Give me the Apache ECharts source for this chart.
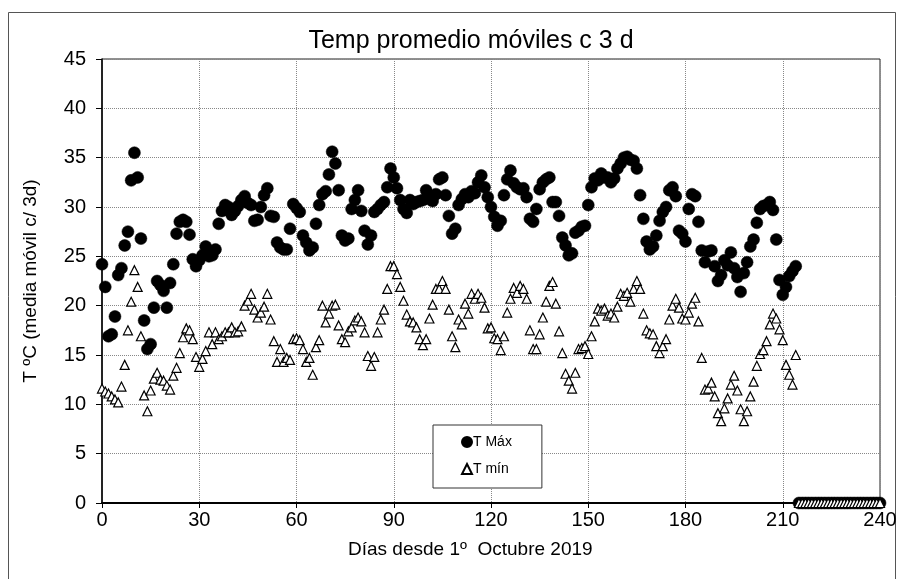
<!DOCTYPE html>
<html>
<head>
<meta charset="utf-8">
<script src="https://cdn.jsdelivr.net/npm/echarts@6/dist/echarts.min.js"></script>
<style>
html, body { margin: 0; padding: 0; background: #fff; }
#chart { width: 901px; height: 579px; }
</style>
</head>
<body>
<div id="chart"></div>
<script>
// dias desde 1 oct 2019, medias moviles de 3 dias
var tMax = [
24.2, 21.9, 16.9, 17.1, 18.9, 23.1, 23.8, 26.1, 27.5, 32.7,
35.5, 33.0, 26.8, 18.5, 15.6, 16.1, 19.8, 22.5, 22.1, 21.5,
19.8, 22.3, 24.2, 27.3, 28.5, 28.7, 28.5, 27.2, 24.7, 24.0,
24.6, 25.1, 26.0, 25.0, 25.1, 25.7, 28.3, 29.6, 30.2, 30.0,
29.2, 29.6, 30.1, 30.7, 31.1, 30.4, 30.2, 28.6, 28.7, 30.0,
31.2, 31.9, 29.1, 29.0, 26.4, 25.9, 25.7, 25.7, 27.8, 30.3,
29.9, 29.5, 27.1, 26.4, 25.6, 25.9, 28.3, 30.2, 31.3, 31.6,
33.3, 35.6, 34.4, 31.7, 27.1, 26.6, 26.8, 29.8, 30.7, 31.7,
29.6, 27.6, 26.2, 27.1, 29.5, 29.8, 30.2, 30.5, 32.0, 33.9,
33.0, 31.9, 30.7, 29.8, 29.4, 30.7, 30.3, 30.5, 30.6, 30.7,
31.7, 30.8, 30.6, 31.3, 32.8, 33.0, 31.2, 29.1, 27.3, 27.8,
30.2, 30.8, 31.3, 31.0, 31.6, 31.4, 32.5, 33.2, 32.0, 31.0,
30.0, 29.0, 28.1, 28.6, 31.2, 32.8, 33.7, 32.4, 32.0, 31.8,
31.9, 31.0, 28.8, 28.5, 29.8, 31.8, 32.5, 32.8, 33.0, 30.5,
30.5, 29.1, 26.9, 26.1, 25.1, 25.3, 27.4, 27.6, 28.0, 28.1,
30.2, 32.0, 32.9, 32.7, 33.4, 33.0, 33.0, 32.5, 32.9, 33.9,
34.4, 35.0, 35.1, 34.8, 34.7, 33.9, 31.2, 28.8, 26.5, 25.7,
26.0, 27.1, 28.6, 29.5, 30.0, 31.7, 32.0, 31.1, 27.6, 27.3,
26.5, 29.8, 31.3, 31.1, 28.5, 25.6, 24.4, 25.5, 25.6, 24.0,
22.5, 23.1, 24.6, 24.1, 25.4, 23.8, 22.9, 21.4, 23.3, 24.4,
26.0, 26.7, 28.4, 29.8, 30.1, 30.2, 30.5, 29.7, 26.7, 22.6,
21.1, 21.9, 23.0, 23.5, 24.0
];
var tMin = [
11.6, 11.3, 11.1, 10.8, 10.5, 10.2, 11.8, 14.0, 17.5, 20.4,
23.6, 21.9, 16.9, 10.9, 9.3, 11.4, 12.6, 13.2, 12.5, 12.4,
11.9, 11.5, 12.9, 13.7, 15.2, 16.8, 17.7, 17.5, 16.6, 14.8,
13.8, 14.6, 15.4, 17.3, 16.1, 17.3, 16.6, 16.9, 17.3, 17.3,
17.8, 17.3, 17.4, 17.9, 20.0, 20.5, 21.2, 19.6, 18.8, 19.3,
19.9, 21.2, 18.6, 16.4, 14.3, 15.6, 14.3, 14.7, 14.5, 16.6,
16.7, 16.5, 15.6, 14.3, 14.7, 13.0, 15.8, 16.5, 20.0, 18.3,
19.2, 20.0, 20.1, 18.0, 16.6, 16.3, 17.4, 17.8, 18.5, 18.8,
18.4, 17.3, 14.9, 13.9, 14.8, 17.3, 18.6, 19.6, 21.7, 24.0,
24.0, 23.2, 21.9, 20.5, 19.1, 18.4, 18.3, 17.8, 16.6, 16.0,
16.6, 18.7, 20.1, 21.7, 21.7, 22.5, 21.7, 19.6, 16.9, 15.8,
18.6, 18.1, 20.2, 19.2, 21.2, 20.7, 21.2, 20.8, 19.8, 17.7,
17.8, 16.7, 16.6, 15.5, 16.9, 19.3, 20.7, 21.8, 21.3, 22.0,
21.7, 20.7, 17.5, 15.6, 15.6, 17.1, 18.8, 20.4, 22.0, 22.4,
20.2, 17.4, 15.2, 13.1, 12.4, 11.6, 13.2, 15.6, 15.7, 15.9,
15.1, 16.9, 18.4, 19.7, 19.5, 19.7, 19.0, 19.2, 18.8, 19.9,
21.2, 21.0, 21.3, 20.4, 21.7, 22.5, 21.7, 19.2, 17.5, 17.2,
17.1, 15.9, 15.2, 15.9, 16.6, 18.6, 20.0, 20.7, 19.8, 18.7,
18.6, 19.3, 20.2, 20.8, 18.4, 14.7, 11.5, 11.6, 12.2, 10.8,
9.1, 8.3, 9.6, 10.6, 12.0, 12.9, 11.4, 9.5, 8.3, 9.3,
10.8, 12.3, 13.9, 15.1, 15.5, 16.4, 18.1, 19.2, 18.7, 17.6,
16.5, 14.0, 13.0, 12.0, 15.0
];
// dias 215..240 sin datos todavia (en cero)
var sinDatos = [0, 0, 0, 0, 0, 0, 0, 0, 0, 0, 0, 0, 0, 0, 0, 0, 0, 0, 0, 0, 0, 0, 0, 0, 0, 0];
var xTicks = [0, 30, 60, 90, 120, 150, 180, 210, 240];

var maxData = [], minData = [];
for (var i = 0; i < tMax.length; i++) {
    maxData.push([i, tMax[i]]);
    minData.push([i, tMin[i]]);
}
for (var j = 0; j < sinDatos.length; j++) {
    maxData.push([tMax.length + j, sinDatos[j]]);
    minData.push([tMax.length + j, sinDatos[j]]);
}

var font = 'Liberation Sans, Arial, sans-serif';
var chart = echarts.init(document.getElementById('chart'));
chart.setOption({
    animation: false,
    backgroundColor: '#fff',
    title: {
        text: 'Temp promedio móviles c 3 d',
        left: 466,
        top: 24,
        textAlign: 'center',
        textStyle: { fontFamily: font, fontSize: 25, fontWeight: 'normal', color: '#000' }
    },
    grid: {
        left: 102, right: 21, top: 59, bottom: 76,
        show: true, borderColor: '#222', borderWidth: 1
    },
    legend: {
        orient: 'vertical',
        left: 433, top: 425,
        width: 112,
        padding: [10, 30, 12, 28],
        itemGap: 13,
        itemWidth: 10, itemHeight: 10,
        borderColor: '#333', borderWidth: 1,
        backgroundColor: '#fff',
        textStyle: { fontFamily: font, fontSize: 14, color: '#000', padding: [0, 0, 0, -4] },
        data: [
            { name: 'T Máx', icon: 'circle' },
            { name: 'T mín', icon: 'triangle' }
        ]
    },
    xAxis: {
        type: 'value',
        min: 0, max: 240, interval: 30,
        axisLine: { lineStyle: { color: '#000', width: 2 } },
        axisTick: { show: true, length: 5, lineStyle: { color: '#000' } },
        axisLabel: { fontFamily: font, fontSize: 20, color: '#000', margin: 7,
            formatter: function (v) { return xTicks.indexOf(v) >= 0 ? v : ''; } },
        splitLine: { show: true, lineStyle: { color: '#888', type: 'dotted', width: 1 } }
    },
    yAxis: {
        type: 'value',
        min: 0, max: 45, interval: 5,
        name: 'T ºC (media móvil c/ 3d)',
        nameLocation: 'middle',
        nameGap: 62,
        nameTextStyle: { fontFamily: font, fontSize: 19, color: '#000' },
        axisLine: { show: true, lineStyle: { color: '#000', width: 1.5 } },
        axisTick: { show: true, length: 6, lineStyle: { color: '#000' } },
        axisLabel: { fontFamily: font, fontSize: 20, color: '#000', margin: 16 },
        splitLine: { show: true, lineStyle: { color: '#888', type: 'dotted', width: 1 } }
    },
    graphic: [
        {
            type: 'rect', silent: true, z: -1,
            shape: { x: 8.5, y: 12.5, width: 887, height: 600 },
            style: { fill: 'none', stroke: '#555', lineWidth: 1 }
        },
        {
            type: 'text', top: 540,
            style: { text: 'Días desde 1º  Octubre 2019', font: '19px ' + font, fill: '#000' },
            left: 348
        }
    ],
    series: [
        {
            name: 'T Máx',
            type: 'scatter',
            symbol: 'circle',
            symbolSize: 12,
            itemStyle: { color: '#000', borderColor: '#000', borderWidth: 0.5, opacity: 1 },
            data: maxData,
            z: 2
        },
        {
            name: 'T mín',
            type: 'scatter',
            symbol: 'triangle',
            symbolSize: 9,
            itemStyle: { color: '#fff', borderColor: '#000', borderWidth: 1.2, opacity: 1 },
            data: minData,
            z: 3
        }
    ]
});
</script>
</body>
</html>
